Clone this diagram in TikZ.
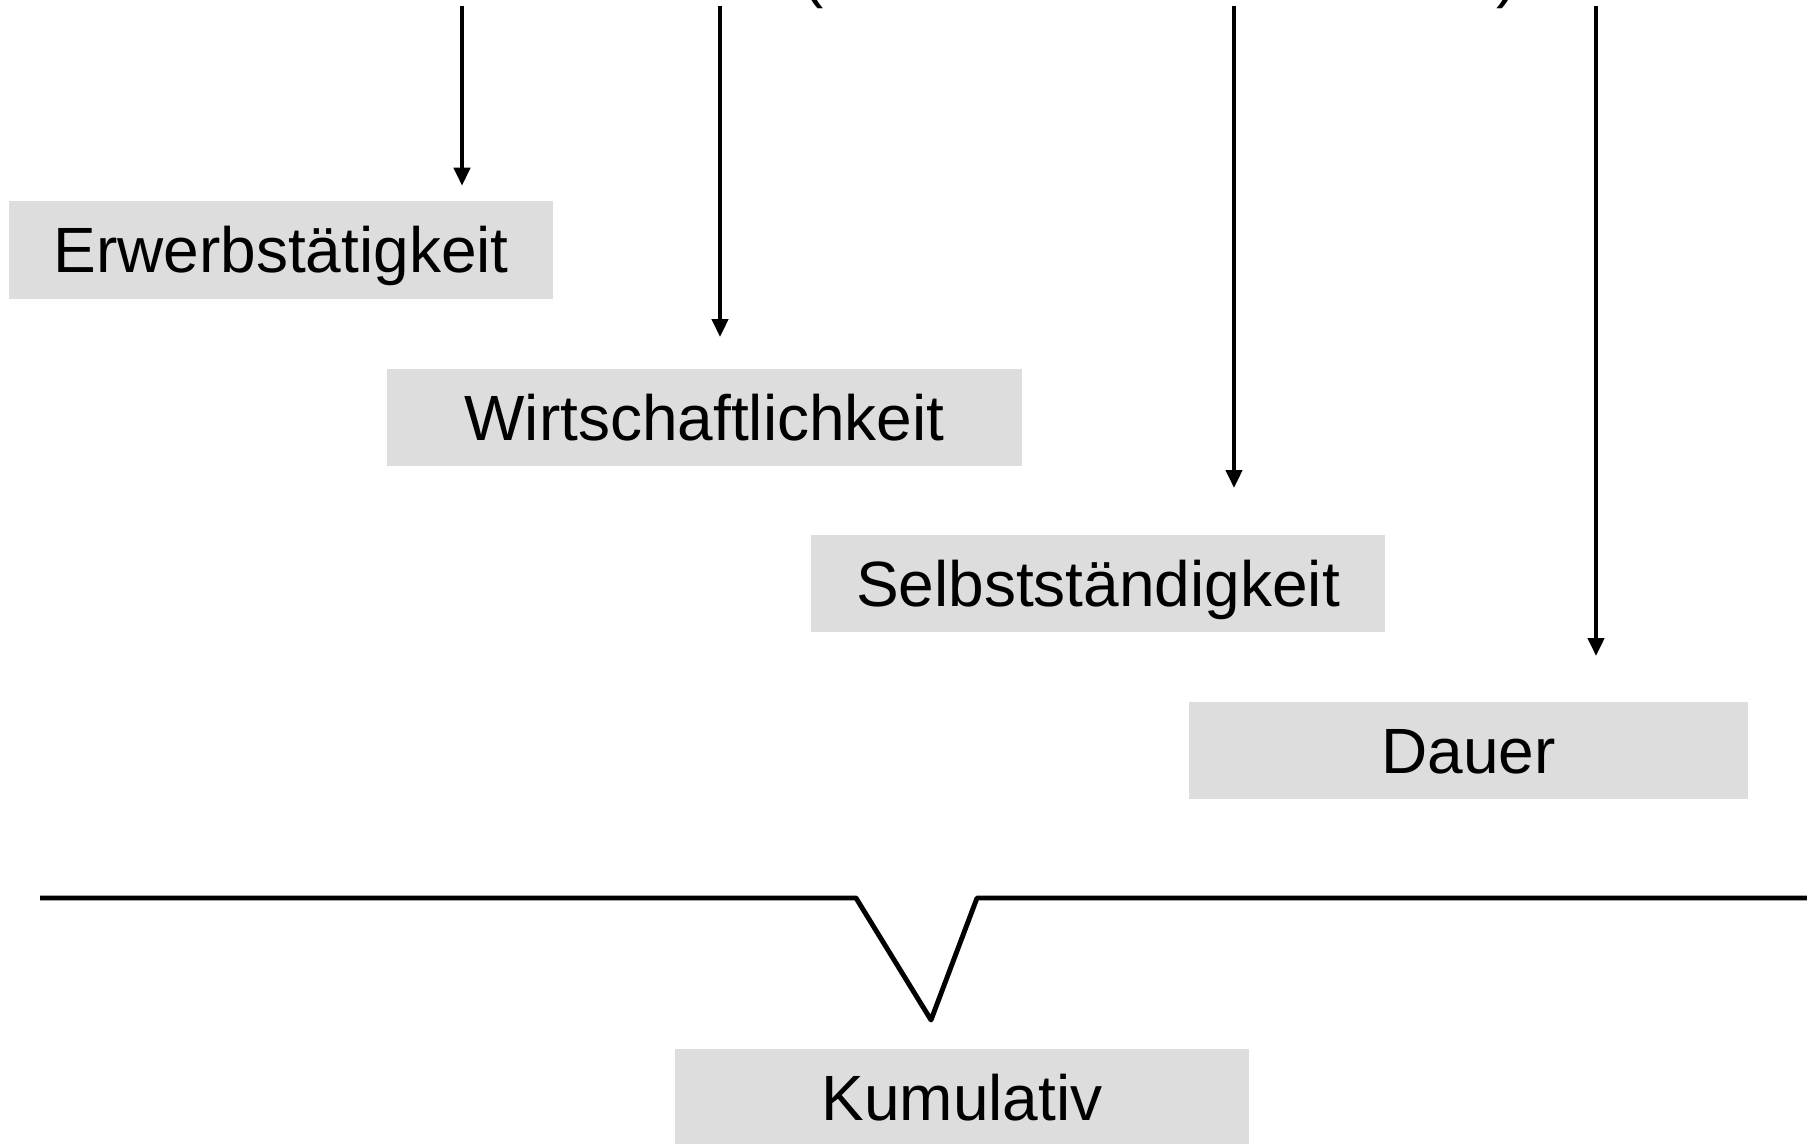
\documentclass[tikz,border=0pt]{standalone}
\usepackage{fontspec}
\setmainfont{Liberation Sans}
\usetikzlibrary{arrows.meta}
\definecolor{boxgray}{RGB}{221,221,221}
\tikzset{
  box/.style={fill=boxgray, draw=none, inner sep=0pt, minimum height=0.97cm,
    text height=13pt, text depth=0pt, font=\fontsize{18.2}{22}\selectfont},
  arr/.style={line width=1.2pt, -{Triangle[length=0.18cm,width=0.16cm]}},
  bar/.style={line width=1.4pt, line join=round},
  frag/.style={inner sep=0pt, font=\fontsize{18.2}{22}\selectfont}
}
\begin{document}
\begin{tikzpicture}[x=0.01cm,y=-0.01cm]
\useasboundingbox (0,0) rectangle (1807,1143);
\clip (0,0) rectangle (1807,1143);

% cut-off fragments of a heading above the picture
\node[frag, anchor=south] (p1) at (813,9) {(};
\node[frag, anchor=south] (p2) at (1507,9) {)};

% boxes
\node[box, minimum width=5.44cm] (b1) at (281,250) {Erwerbstätigkeit};
\node[box, minimum width=6.35cm] (b2) at (704.5,417.3) {Wirtschaftlichkeit};
\node[box, minimum width=5.74cm] (b3) at (1098,583.3) {Selbstständigkeit};
\node[box, minimum width=5.59cm] (b4) at (1468.5,750.3) {Dauer};
\node[box, minimum width=5.74cm] (b5) at (962,1097.5) {Kumulativ};

% arrow starts
\coordinate (s1) at (462,6);
\coordinate (s2) at (720,6);
\coordinate (s3) at (1234,6);
\coordinate (s4) at (1596,6);

\draw[arr, shorten >=0.15cm] (s1) -- (s1 |- b1.north);
\draw[arr, shorten >=0.31cm] (s2) -- (s2 |- b2.north);
\draw[arr, shorten >=0.46cm] (s3) -- (s3 |- b3.north);
\draw[arr, shorten >=0.45cm] (s4) -- (s4 |- b4.north);

% bracket line with notch
\coordinate (l0) at (40,898);
\coordinate (l1) at (856,898);
\coordinate (l2) at (931,1020);
\coordinate (l3) at (977,898);
\coordinate (l4) at (1815,898);
\draw[bar] (l0) -- (l1) -- (l2) -- (l3) -- (l4);
\end{tikzpicture}
\end{document}
